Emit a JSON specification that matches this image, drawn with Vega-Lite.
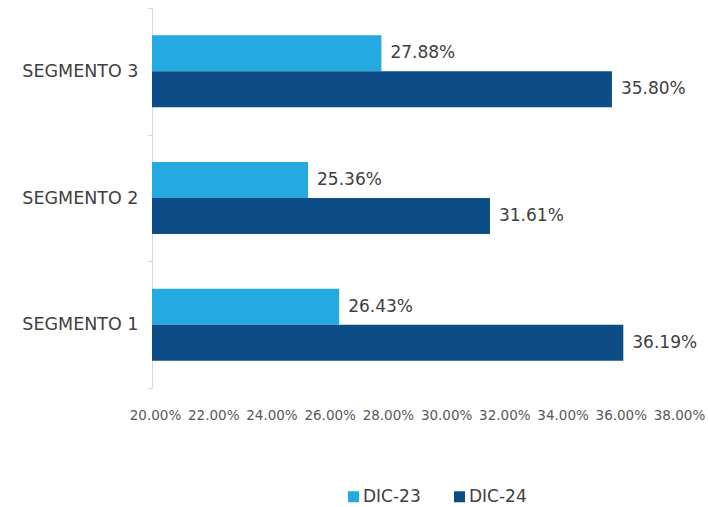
{
  "$schema": "https://vega.github.io/schema/vega-lite/v6.json",
  "width": 524,
  "height": 380,
  "autosize": {"type": "none"},
  "padding": {"left": 152, "top": 8, "right": 32, "bottom": 119},
  "background": "white",
  "config": {"view": {"stroke": null}, "font": "DejaVu Sans"},
  "data": {
    "values": [
      {"segmento": "SEGMENTO 3", "serie": "DIC-23", "valor": 0.2788},
      {"segmento": "SEGMENTO 3", "serie": "DIC-24", "valor": 0.3580},
      {"segmento": "SEGMENTO 2", "serie": "DIC-23", "valor": 0.2536},
      {"segmento": "SEGMENTO 2", "serie": "DIC-24", "valor": 0.3161},
      {"segmento": "SEGMENTO 1", "serie": "DIC-23", "valor": 0.2643},
      {"segmento": "SEGMENTO 1", "serie": "DIC-24", "valor": 0.3619}
    ]
  },
  "encoding": {
    "y": {
      "field": "segmento", "type": "nominal", "sort": "descending", "title": null,
      "scale": {"paddingInner": 0, "paddingOuter": 0},
      "axis": {"tickBand": "extent", "domainColor": "#d9d9d9", "tickColor": "#d9d9d9", "tickSize": 5, "labelFontSize": 17.5, "labelColor": "#404040", "labelPadding": 9, "labelFont": "DejaVu Sans"}
    },
    "yOffset": {"field": "serie", "type": "nominal", "sort": ["DIC-23", "DIC-24"], "scale": {"paddingInner": 0, "paddingOuter": 0.76}},
    "x": {
      "field": "valor", "type": "quantitative", "title": null,
      "scale": {"domain": [0.2, 0.38], "zero": false, "clamp": true, "nice": false},
      "axis": {"format": ".2%", "values": [0.2, 0.22, 0.24, 0.26, 0.28, 0.3, 0.32, 0.34, 0.36, 0.38], "domain": false, "ticks": false, "grid": false, "labelFontSize": 13.5, "labelColor": "#595959", "labelPadding": 20, "labelOffset": 3, "labelFlush": false, "labelFont": "DejaVu Sans", "labelOverlap": false}
    }
  },
  "layer": [
    {
      "mark": {"type": "bar"},
      "encoding": {
        "x2": {"datum": 0.2},
        "color": {
          "field": "serie", "type": "nominal", "title": null,
          "scale": {"domain": ["DIC-23", "DIC-24"], "range": ["#24A9E1", "#0E4C87"]},
          "legend": {"orient": "none", "direction": "horizontal", "legendX": 193, "legendY": 480, "symbolType": "square", "symbolSize": 121, "symbolStrokeWidth": 0, "labelFontSize": 17, "labelColor": "#404040", "labelOffset": 1, "columnPadding": 30, "labelFont": "DejaVu Sans"}
        }
      }
    },
    {
      "mark": {"type": "text", "align": "left", "dx": 9, "fontSize": 17, "color": "#404040", "font": "DejaVu Sans"},
      "encoding": {"text": {"field": "valor", "type": "quantitative", "format": ".2%"}}
    }
  ]
}
